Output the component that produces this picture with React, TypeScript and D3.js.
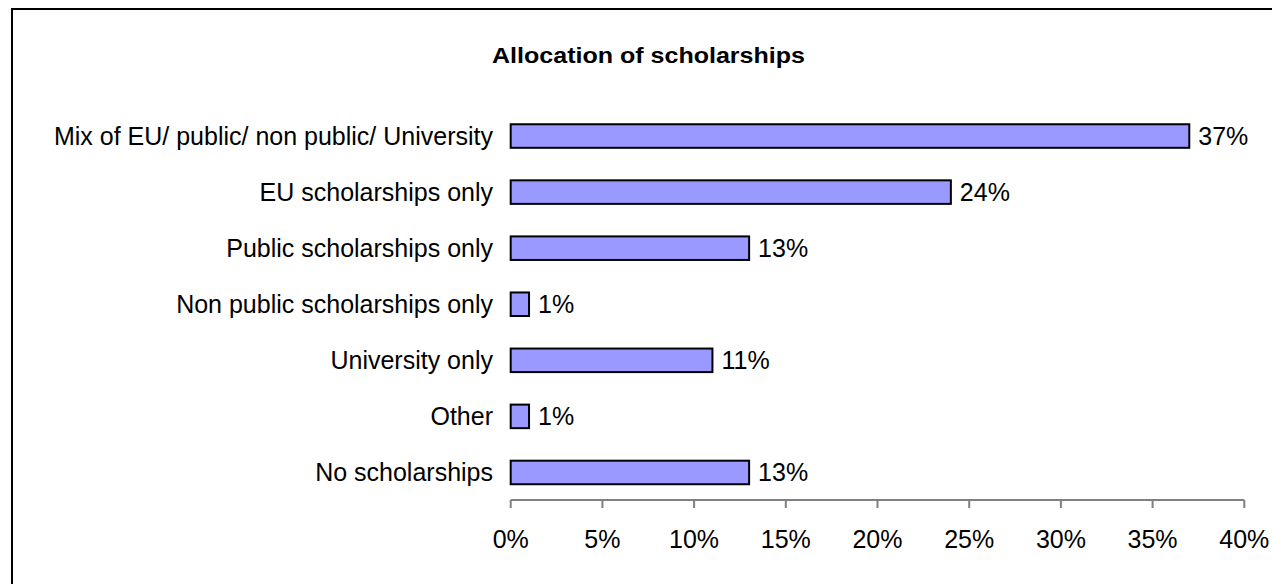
import React from "react";
import * as d3 from "d3";

const categories = [
  "Mix of EU/ public/ non public/ University",
  "EU scholarships only",
  "Public scholarships only",
  "Non public scholarships only",
  "University only",
  "Other",
  "No scholarships",
];
const values = [37, 24, 13, 1, 11, 1, 13];
const xTicks = [0, 5, 10, 15, 20, 25, 30, 35, 40];
const title = "Allocation of scholarships";

const W = 1272;
const H = 584;
const FONT = "'Liberation Sans', Arial, sans-serif";

export default function App() {
  const x = d3.scaleLinear().domain([0, 40]).range([510.7, 1244.3]);
  const y = d3.scaleBand<string>().domain(categories).range([108, 500.5]).padding(0);
  const barH = y.bandwidth() * 0.42;
  const axisY = 500;

  return (
    <svg
      width={W}
      height={H}
      style={{ position: "absolute", left: 0, top: 0, background: "#fff" }}
      fontFamily={FONT}
    >
      <rect x={0} y={0} width={W} height={H} fill="#fff" />
      <rect x={12} y={9} width={W + 10} height={H + 10} fill="none" stroke="#000" strokeWidth={2} />
      <text
        x={492}
        y={63}
        textAnchor="start"
        fontSize={22}
        fontWeight="bold"
        fill="#000"
        textLength={313}
        lengthAdjust="spacingAndGlyphs"
      >
        {title}
      </text>
      {categories.map((c, i) => {
        const cy = (y(c) as number) + y.bandwidth() / 2;
        return (
          <g key={c}>
            <rect
              x={x(0)}
              y={cy - barH / 2}
              width={x(values[i]) - x(0)}
              height={barH}
              fill="#9999FF"
              stroke="#000"
              strokeWidth={2}
            />
            <text x={493} y={cy} dy="0.35em" textAnchor="end" fontSize={25} fill="#000">
              {c}
            </text>
            <text x={x(values[i]) + 9} y={cy} dy="0.35em" textAnchor="start" fontSize={25} fill="#000">
              {values[i] + "%"}
            </text>
          </g>
        );
      })}
      <line x1={x(0)} x2={x(40)} y1={axisY} y2={axisY} stroke="#808080" strokeWidth={2} />
      {xTicks.map((t) => (
        <g key={t}>
          <line x1={x(t)} x2={x(t)} y1={axisY} y2={axisY + 8} stroke="#808080" strokeWidth={2} />
          <text x={x(t)} y={548} textAnchor="middle" fontSize={25} fill="#000">
            {t + "%"}
          </text>
        </g>
      ))}
    </svg>
  );
}
